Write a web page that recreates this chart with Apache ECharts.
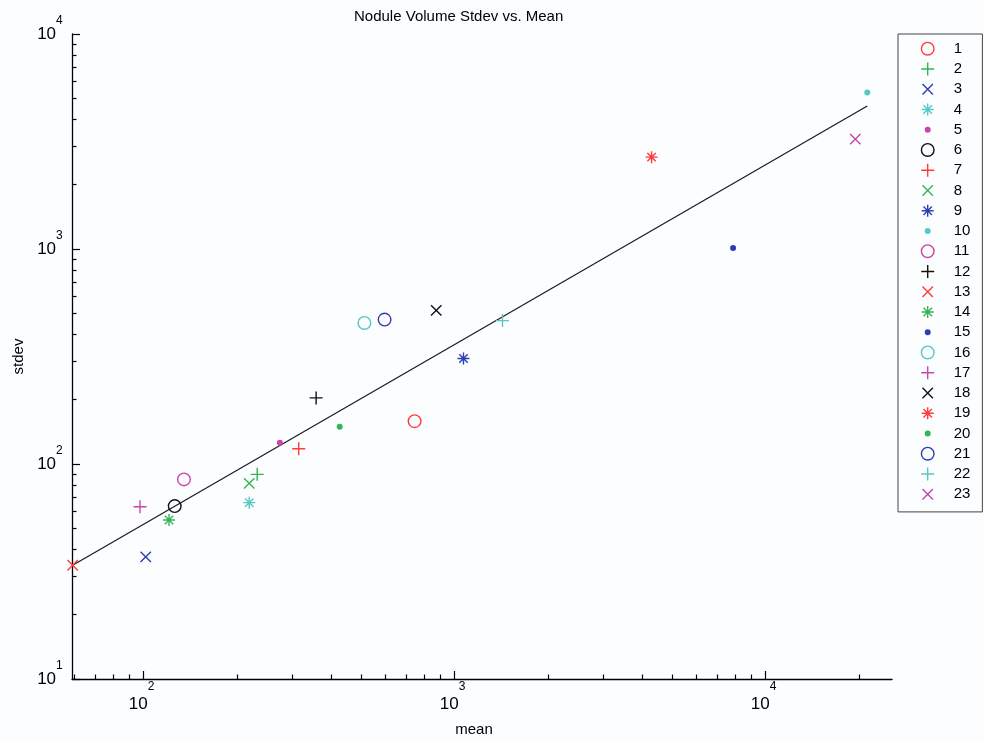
<!DOCTYPE html>
<html>
<head>
<meta charset="utf-8">
<script src="https://cdn.jsdelivr.net/npm/echarts@6/dist/echarts.min.js"></script>
<style>
html,body{margin:0;padding:0;background:#fbfdfe;}
#chart{width:984px;height:742px;}
</style>
</head>
<body>
<div id="chart"></div>
<script>
// ---- data ----
const seriesNames = ['1','2','3','4','5','6','7','8','9','10','11','12','13','14','15','16','17','18','19','20','21','22','23'];
const meanValues  = [743, 231.7, 101.5, 218.4, 274, 125.8, 315, 218.4, 1067, 21210, 134.7, 358.4, 59.1, 120.6, 7852, 512.3, 97.3, 872, 4295, 426.7, 595, 1424, 19411];
const stdevValues = [158.2, 89.5, 37.0, 66.1, 125.6, 63.7, 117.8, 81.3, 309.4, 5339, 84.8, 203, 33.8, 54.9, 1011, 453, 63.3, 518, 2675, 149, 469.6, 464.5, 3245];
const fitMean  = [59.1, 21210];
const fitStdev = [33.8, 4630];
const xMajorTicks = [100, 1000, 10000];
const xMajorLabels = ['2', '3', '4'];
const xMinorTicks = [60, 70, 80, 90, 200, 300, 400, 500, 600, 700, 800, 900, 2000, 3000, 4000, 5000, 6000, 7000, 8000, 9000, 20000];
const yMajorTicks = [10, 100, 1000, 10000];
const yMajorLabels = ['1', '2', '3', '4'];
const yMinorTicks = [20, 30, 40, 50, 60, 70, 80, 90, 200, 300, 400, 500, 600, 700, 800, 900, 2000, 3000, 4000, 5000, 6000, 7000, 8000, 9000];

// ---- styling ----
const FONT = 'Liberation Sans, Arial, Helvetica, sans-serif';
const colorCycle = ['#ff3a3a', '#33b555', '#2e3db2', '#55c8c8', '#c845aa', '#111111'];
const markerCycle = ['o', '+', 'x', '*', '.'];
const markerPaths = {
  'o': 'path://M0 0M16 16M8 1.7A6.3 6.3 0 1 1 8 14.3A6.3 6.3 0 1 1 8 1.7Z',
  '+': 'path://M0 0M16 16M1.5 8L14.5 8M8 1.5L8 14.5',
  'x': 'path://M0 0M16 16M2.8 2.8L13.2 13.2M13.2 2.8L2.8 13.2',
  '*': 'path://M0 0M16 16M2 8L14 8M8 2L8 14M3.8 3.8L12.2 12.2M12.2 3.8L3.8 12.2',
  '.': 'path://M0 0M16 16M8 5.7A2.3 2.3 0 1 1 8 10.3A2.3 2.3 0 1 1 8 5.7Z'
};

const scatterSeries = seriesNames.map((name, i) => {
  const c = colorCycle[i % 6];
  const m = markerCycle[i % 5];
  return {
    name: name,
    type: 'scatter',
    xAxisIndex: 0, yAxisIndex: 0,
    symbol: markerPaths[m],
    symbolSize: 16,
    itemStyle: {
      color: m === '.' ? c : 'rgba(0,0,0,0)',
      borderColor: c,
      borderWidth: 1.4,
      opacity: 1
    },
    emphasis: { disabled: true },
    data: [[meanValues[i], stdevValues[i]]],
    z: 3
  };
});

const fitSeries = {
  name: 'fit',
  type: 'line',
  xAxisIndex: 0, yAxisIndex: 0,
  symbol: 'none',
  silent: true,
  lineStyle: { color: '#1a1a1a', width: 1.2 },
  data: fitMean.map((v, i) => [v, fitStdev[i]]),
  z: 2
};

const xRich = {
  b: { fontSize: 17, fontFamily: FONT, color: '#000', lineHeight: 18, verticalAlign: 'bottom' },
  s: { fontSize: 12, fontFamily: FONT, color: '#000', lineHeight: 12, verticalAlign: 'top' },
  h: { fontSize: 1, lineHeight: 32 }
};
const yRich = {
  b: { fontSize: 17, fontFamily: FONT, color: '#000', lineHeight: 18, verticalAlign: 'middle' },
  s: { fontSize: 12, fontFamily: FONT, color: '#000', lineHeight: 12, verticalAlign: 'top' },
  h: { fontSize: 1, lineHeight: 38 }
};

const xMin = 58.8, xMax = 25470, yMin = 10, yMax = 10000;
const axisColor = '#000';

const option = {
  backgroundColor: '#fbfdfe',
  animation: false,
  title: {
    text: 'Nodule Volume Stdev vs. Mean',
    left: 354, top: 9, padding: 0,
    textStyle: { fontSize: 15, fontWeight: 'normal', color: '#000', fontFamily: FONT }
  },
  grid: { left: 72, top: 34, width: 820, height: 646, containLabel: false },
  legend: {
    data: seriesNames,
    orient: 'vertical',
    left: 898, top: 34,
    padding: [6, 12, 9, 21],
    itemWidth: 42, itemHeight: 16, itemGap: 2.85,
    selectedMode: false,
    borderColor: '#444', borderWidth: 1,
    backgroundColor: '#fbfdfe',
    itemStyle: { borderWidth: 1.4 },
    textStyle: { fontSize: 15, lineHeight: 16, color: '#000', fontFamily: FONT }
  },
  xAxis: [
    {
      type: 'log', min: xMin, max: xMax, position: 'bottom',
      name: 'mean', nameLocation: 'middle', nameGap: 43,
      nameTextStyle: { fontSize: 15, color: '#000', fontFamily: FONT, padding: [0, 16, 0, 0] },
      axisLine: { show: true, lineStyle: { color: axisColor, width: 1.3 } },
      axisTick: { show: true, inside: true, length: 8, customValues: xMajorTicks, lineStyle: { color: axisColor, width: 1.2 } },
      axisLabel: {
        show: true, margin: 2, customValues: xMajorTicks, padding: [0, 4, 0, 0],
        formatter: v => '{b|10}{s|' + xMajorLabels[xMajorTicks.indexOf(v)] + '}{h| }',
        rich: xRich
      },
      splitLine: { show: false }
    },
    {
      type: 'log', min: xMin, max: xMax, position: 'bottom',
      axisLine: { show: false },
      axisTick: { show: true, inside: true, length: 4.5, customValues: xMinorTicks, lineStyle: { color: axisColor, width: 1.2 } },
      axisLabel: { show: false },
      splitLine: { show: false }
    }
  ],
  yAxis: [
    {
      type: 'log', min: yMin, max: yMax, position: 'left',
      name: 'stdev', nameLocation: 'middle', nameGap: 42,
      nameTextStyle: { fontSize: 15, color: '#000', fontFamily: FONT },
      axisLine: { show: true, lineStyle: { color: axisColor, width: 1.3 } },
      axisTick: { show: true, inside: true, length: 8, customValues: yMajorTicks, lineStyle: { color: axisColor, width: 1.2 } },
      axisLabel: {
        show: true, margin: 9, customValues: yMajorTicks,
        formatter: v => '{b|10}{s|' + yMajorLabels[yMajorTicks.indexOf(v)] + '}{h| }',
        rich: yRich
      },
      splitLine: { show: false }
    },
    {
      type: 'log', min: yMin, max: yMax, position: 'left',
      axisLine: { show: false },
      axisTick: { show: true, inside: true, length: 4.5, customValues: yMinorTicks, lineStyle: { color: axisColor, width: 1.2 } },
      axisLabel: { show: false },
      splitLine: { show: false }
    }
  ],
  series: [fitSeries].concat(scatterSeries)
};

const chart = echarts.init(document.getElementById('chart'), null, { renderer: 'canvas' });
chart.setOption(option);
</script>
</body>
</html>
